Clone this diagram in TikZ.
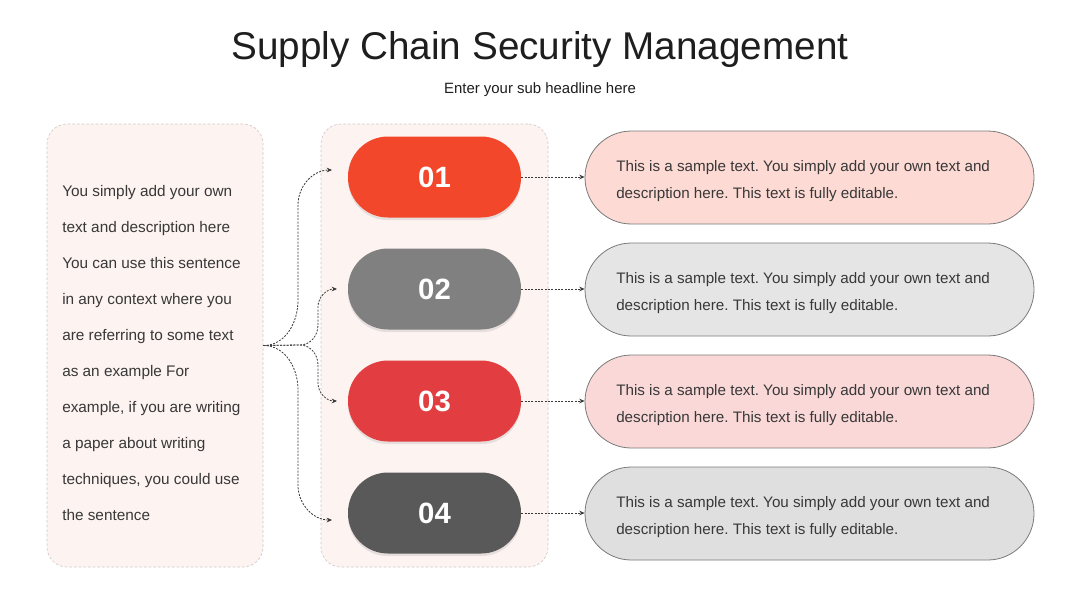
\documentclass[tikz,border=0pt]{standalone}
\usepackage{fontspec}
\setmainfont{Liberation Sans}
\usetikzlibrary{arrows.meta,shadows}
\definecolor{panelfill}{HTML}{FDF3F1}
\definecolor{panelline}{HTML}{D6C8C8}
\definecolor{pillA}{HTML}{F2472A}
\definecolor{pillB}{HTML}{808080}
\definecolor{pillC}{HTML}{E23D40}
\definecolor{pillD}{HTML}{595959}
\definecolor{boxA}{HTML}{FDDAD4}
\definecolor{boxB}{HTML}{E5E5E5}
\definecolor{boxC}{HTML}{FAD8D8}
\definecolor{boxD}{HTML}{DFDFDF}
\definecolor{boxline}{HTML}{7A7A7A}
\definecolor{bodytext}{HTML}{383838}
\definecolor{titletext}{HTML}{1E1E1E}
\definecolor{linkc}{HTML}{3A3A3A}
\frenchspacing
\begin{document}
\begin{tikzpicture}[x=0.75pt,y=-0.75pt,
  panel/.style={draw=panelline, line width=0.5pt, dash pattern=on 2pt off 1.5pt, fill=panelfill, rounded corners=15pt, minimum height=332.25pt, inner sep=0pt},
  numpill/.style={rounded corners=30pt, minimum width=129.75pt, minimum height=60.75pt, text=white, font=\fontsize{22}{22}\selectfont\bfseries, drop shadow={opacity=0.18, shadow xshift=0pt, shadow yshift=-2pt}},
  descbox/.style={draw=boxline, line width=0.6pt, rounded corners=34.8pt, minimum width=336.75pt, minimum height=69.75pt},
  desctext/.style={anchor=west, align=left, text=bodytext, inner sep=0pt, font=\fontsize{11.4}{20.25}\selectfont},
  link/.style={draw=linkc, line width=0.6pt, dash pattern=on 1.5pt off 1pt, -{Stealth[length=4pt,width=3.5pt]}}
]
\useasboundingbox[fill=white] (0,0) rectangle (1080,608);

% title
\node[text=titletext, font=\fontsize{29}{29}\selectfont] (title) at (540,49) {Supply Chain Security Management};
\node[text=titletext, font=\fontsize{11.2}{13}\selectfont] (sub) at (540,90) {Enter your sub headline here};

% panels
\node[panel, minimum width=162pt] (lbox) at (155,345.5) {};
\node[panel, minimum width=170.25pt] (mbox) at (434.5,345.5) {};

% left text
\node[anchor=north west, align=left, text=bodytext, inner sep=0pt, font=\fontsize{11.5}{27}\selectfont] (ltext) at (62,185)
{You simply add your own\\text and description here\\You can use this sentence\\in any context where you\\are referring to some text\\as an example For\\example, if you are writing\\a paper about writing\\techniques, you could use\\the sentence};

% number pills
\node[numpill, fill=pillA] (p1) at (434.5,177) {01};
\node[numpill, fill=pillB] (p2) at (434.5,289) {02};
\node[numpill, fill=pillC] (p3) at (434.5,401) {03};
\node[numpill, fill=pillD] (p4) at (434.5,513) {04};

% description boxes
\node[descbox, fill=boxA] (r1) at (809.5,177.5) {};
\node[descbox, fill=boxB] (r2) at (809.5,289.5) {};
\node[descbox, fill=boxC] (r3) at (809.5,401.5) {};
\node[descbox, fill=boxD] (r4) at (809.5,513.5) {};

\node[desctext] (t1) at (616,181.5) {This is a sample text. You simply add your own text and\\description here. This text is fully editable.};
\node[desctext] (t2) at (616,293.5) {This is a sample text. You simply add your own text and\\description here. This text is fully editable.};
\node[desctext] (t3) at (616,405.5) {This is a sample text. You simply add your own text and\\description here. This text is fully editable.};
\node[desctext] (t4) at (616,517.5) {This is a sample text. You simply add your own text and\\description here. This text is fully editable.};

% pill to box links
\draw[link] (p1.east) -- (r1.west |- p1.east);
\draw[link] (p2.east) -- (r2.west |- p2.east);
\draw[link] (p3.east) -- (r3.west |- p3.east);
\draw[link] (p4.east) -- (r4.west |- p4.east);

% branching connectors
\coordinate (a1) at (332,170);
\coordinate (a2) at (337,289);
\coordinate (a3) at (337,401);
\coordinate (a4) at (332,520);
\coordinate (fork) at (300,345);
\draw[link] (lbox.east) to[out=0,in=-90] (298,300) -- (298,205) to[out=90,in=180] (a1);
\draw[link] (lbox.east) -- (fork) to[out=0,in=-90] (318,325) -- (318,307) to[out=90,in=180] (a2);
\draw[link] (lbox.east) -- (fork) to[out=0,in=90] (318,365) -- (318,383) to[out=-90,in=180] (a3);
\draw[link] (lbox.east) to[out=0,in=90] (298,390) -- (298,485) to[out=-90,in=180] (a4);
\end{tikzpicture}
\end{document}
